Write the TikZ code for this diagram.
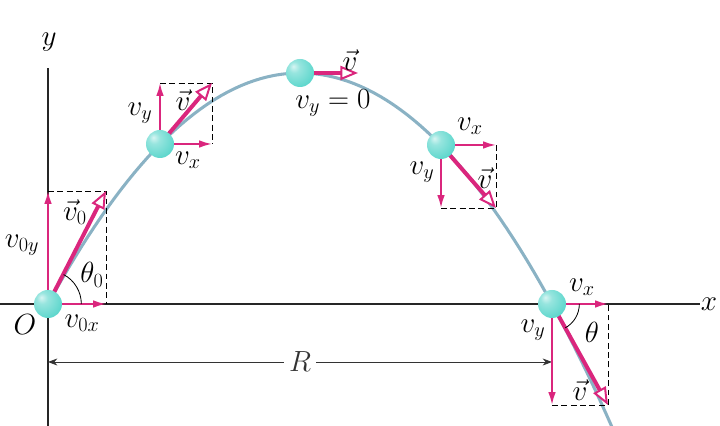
\documentclass[tikz,border=0pt]{standalone}
\usepackage{amsmath}
\usepackage{tikz}
\usetikzlibrary{arrows.meta, calc}

\definecolor{velpink}{RGB}{218,38,125}
\definecolor{trajblue}{RGB}{138,178,196}
\definecolor{ballcyan}{RGB}{95,215,205}
\definecolor{balledge}{RGB}{40,165,165}
\pgfdeclareradialshading{cyanball}{\pgfpoint{-12bp}{12bp}}{%
  color(0bp)=(white!75!ballcyan); color(10bp)=(white!35!ballcyan);
  color(32bp)=(ballcyan); color(55bp)=(balledge!70!ballcyan); color(75bp)=(balledge)}

\begin{document}
\begin{tikzpicture}[
    x=0.03cm, y=0.03cm,
    font=\fontsize{23}{27}\selectfont,
    axisline/.style={line width=0.9pt, black!85},
    traj/.style={line width=2.6pt, trajblue},
    vel/.style={line width=3.4pt, velpink, -{Triangle[fill=white, length=15pt, width=12pt, line width=1.7pt]}},
    comp/.style={line width=1.6pt, velpink, -{Latex[length=11pt, width=6.5pt]}},
    guide/.style={line width=0.8pt, dash pattern=on 5pt off 3pt},
    dimline/.style={line width=0.7pt, black!80, {Stealth[length=8pt, width=6pt]}-{Stealth[length=8pt, width=6pt]}},
    ballnode/.style={circle, minimum size=0.84cm, inner sep=0pt, shading=cyanball},
]
    \useasboundingbox (0,0) rectangle (720,426);
    \clip (0,0) rectangle (720,426);

    % Ball centres and velocity tips
    \coordinate (c1) at (48,122);   \coordinate (t1) at (106,235);
    \coordinate (c2) at (160,282);  \coordinate (t2) at (212,343);
    \coordinate (c3) at (300,353);  \coordinate (t3) at (358,353);
    \coordinate (c4) at (441,281);  \coordinate (t4) at (496,218);
    \coordinate (c5) at (552,122);  \coordinate (t5) at (608,21);

    % Axes
    \coordinate (xs) at (0,122);  \coordinate (xe) at (700,122);
    \coordinate (ys) at (48,0);   \coordinate (ye) at (48,358);
    \draw[axisline] (xs) -- (xe);
    \draw[axisline] (ys) -- (ye);

    % Range
    \coordinate (rl) at (48,64);  \coordinate (rr) at (552,64);
    \draw[dimline] (rl) -- node[fill=white, inner sep=4pt] (rlbl) {$R$} (rr);

    % Trajectory
    \draw[traj] plot[domain=48:640, samples=90] (\x, {122+231*(1-((\x-300)/252)^2)});

    % Dashed guides
    \draw[guide] (c1 |- t1) -- (t1) -- (c1 -| t1);
    \draw[guide] (c2 |- t2) -- (t2) -- (c2 -| t2);
    \draw[guide] (c4 |- t4) -- (t4) -- (c4 -| t4);
    \draw[guide] (c5 |- t5) -- (t5) -- (c5 -| t5);

    % Components
    \draw[comp] (c1) -- (c1 |- t1);
    \draw[comp] (c1) -- (c1 -| t1);
    \draw[comp] (c2) -- (c2 |- t2);
    \draw[comp] (c2) -- (c2 -| t2);
    \draw[comp] (c4) -- (c4 |- t4);
    \draw[comp] (c4) -- (c4 -| t4);
    \draw[comp] (c5) -- (c5 |- t5);
    \draw[comp] (c5) -- (c5 -| t5);

    % Velocities
    \draw[vel] (c1) -- (t1);
    \draw[vel] (c2) -- (t2);
    \draw[vel] (c3) -- (t3);
    \draw[vel] (c4) -- (t4);
    \draw[vel] (c5) -- (t5);

    % Angles
    \draw[line width=0.7pt] (c1) ++(0:1cm) arc[start angle=0, end angle=62, radius=1cm];
    \draw[line width=0.7pt] (c5) ++(0:0.82cm) arc[start angle=0, end angle=-61, radius=0.82cm];

    % Balls
    \node[ballnode] (ball1) at (c1) {};
    \node[ballnode] (ball2) at (c2) {};
    \node[ballnode] (ball3) at (c3) {};
    \node[ballnode] (ball4) at (c4) {};
    \node[ballnode] (ball5) at (c5) {};

    % Labels
    \node (ylbl) at (49,384) {$y$};
    \node (xlbl) at (709,122) {$x$};
    \node (olbl) at (25,101) {$O$};
    \node (v0xlbl) at (82,103) {$v_{0x}$};
    \node (v0ylbl) at (22,181) {$v_{0y}$};
    \node (v0lbl) at (75,214) {$\vec{v}_0$};
    \node (th0lbl) at (92,151) {$\theta_0$};
    \node (vy2lbl) at (140,313) {$v_y$};
    \node (v2lbl) at (183,326) {$\vec{v}$};
    \node (vx2lbl) at (188,266) {$v_x$};
    \node (v3lbl) at (350,366) {$\vec{v}$};
    \node (vy3lbl) at (333,323) {$v_y = 0$};
    \node (vx4lbl) at (470,300) {$v_x$};
    \node (vy4lbl) at (422,254) {$v_y$};
    \node (v4lbl) at (485,248) {$\vec{v}$};
    \node (vx5lbl) at (582,139) {$v_x$};
    \node (vy5lbl) at (533,96) {$v_y$};
    \node (thlbl) at (592,94) {$\theta$};
    \node (v5lbl) at (580,36) {$\vec{v}$};
\end{tikzpicture}
\end{document}
